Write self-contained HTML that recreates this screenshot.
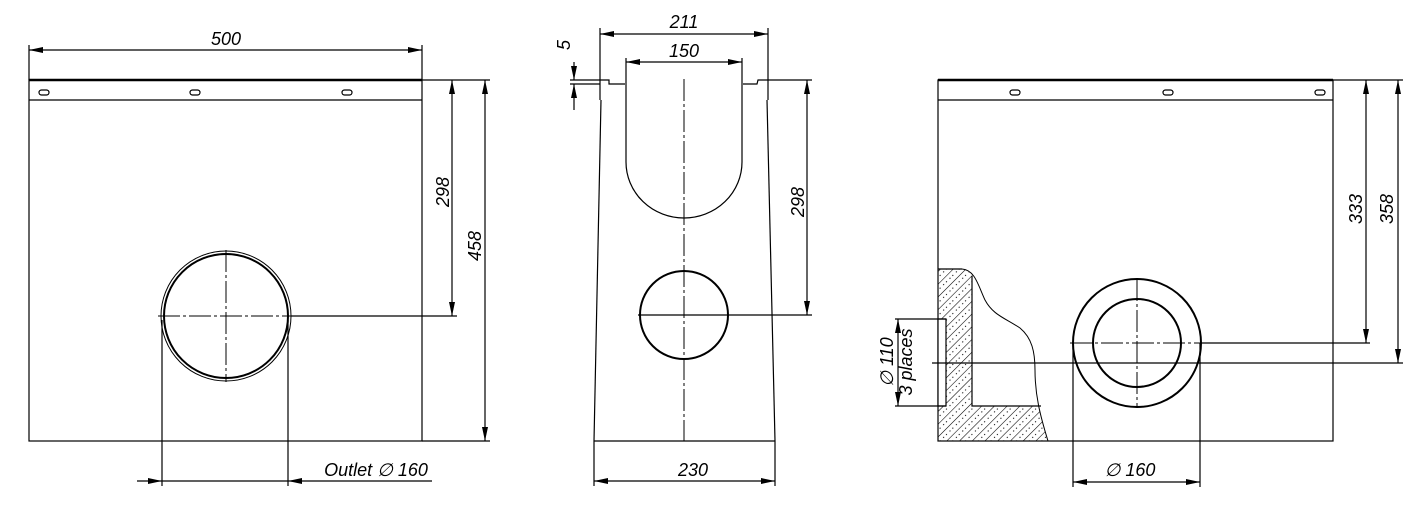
<!DOCTYPE html>
<html><head><meta charset="utf-8"><style>
html,body{margin:0;padding:0;background:#fff;}
svg{display:block;}
text{font-family:"Liberation Sans",sans-serif;font-style:italic;font-size:18px;fill:#000;}
</style></head><body>
<svg width="1415" height="506" viewBox="0 0 1415 506" xmlns="http://www.w3.org/2000/svg">
<defs>
<marker id="a" viewBox="0 0 14 6" refX="14" refY="3" markerWidth="14" markerHeight="6" orient="auto-start-reverse" markerUnits="userSpaceOnUse"><path d="M0,0 L14,3 L0,6 Z" fill="#000"/></marker>
<pattern id="h" width="9" height="9" patternUnits="userSpaceOnUse" patternTransform="rotate(45)">
<line x1="0" y1="0" x2="0" y2="9" stroke="#000" stroke-width="1.1"/>
<circle cx="4.5" cy="2" r="0.6" fill="#000"/><circle cx="4.5" cy="7" r="0.6" fill="#000"/>
</pattern>
</defs>
<g fill="none" stroke="#000" stroke-width="1.2">
<!-- LEFT VIEW -->
<rect x="29" y="80" width="393" height="361"/>
<line x1="29" y1="80" x2="422" y2="80" stroke-width="2.5"/>
<line x1="29" y1="100" x2="422" y2="100"/>
<rect x="39" y="90" width="10" height="5" rx="2.5"/>
<rect x="190" y="90" width="10" height="5" rx="2.5"/>
<rect x="342" y="90" width="10" height="5" rx="2.5"/>
<circle cx="226" cy="316" r="65" stroke-width="1"/>
<circle cx="226" cy="316" r="62" stroke-width="2"/>
<line x1="158" y1="316" x2="294" y2="316" stroke-width="1" stroke-dasharray="22,3,3,3"/>
<line x1="226" y1="250" x2="226" y2="382" stroke-width="1" stroke-dasharray="22,3,3,3"/>
<line x1="162" y1="320" x2="162" y2="486"/>
<line x1="288" y1="320" x2="288" y2="486"/>
<line x1="137" y1="481" x2="162" y2="481" marker-end="url(#a)"/>
<line x1="162" y1="481" x2="288" y2="481"/>
<line x1="432" y1="481" x2="288" y2="481" marker-end="url(#a)"/>
<line x1="29" y1="45" x2="29" y2="80"/>
<line x1="422" y1="45" x2="422" y2="80"/>
<line x1="29" y1="50" x2="422" y2="50" marker-start="url(#a)" marker-end="url(#a)"/>
<line x1="422" y1="80" x2="490" y2="80"/>
<line x1="291" y1="316" x2="457" y2="316"/>
<line x1="422" y1="441" x2="490" y2="441"/>
<line x1="452" y1="80" x2="452" y2="316" marker-start="url(#a)" marker-end="url(#a)"/>
<line x1="485" y1="80" x2="485" y2="441" marker-start="url(#a)" marker-end="url(#a)"/>
<!-- MIDDLE VIEW -->
<path d="M600,100 L600,80 L609,80 L609,84 L625,84"/>
<path d="M743,84 L757,84 L758,80 L768,80 L768,100"/>
<line x1="601" y1="100" x2="594" y2="441"/>
<line x1="767" y1="100" x2="775" y2="441"/>
<line x1="594" y1="441" x2="775" y2="441"/>
<path d="M626,84 L626,162 A58,56 0 0 0 742,162 L742,84"/>
<line x1="684" y1="79" x2="684" y2="441" stroke-width="1" stroke-dasharray="22,3,3,3"/>
<circle cx="684" cy="315" r="44" stroke-width="2"/>
<line x1="638" y1="315" x2="812" y2="315"/>
<line x1="768" y1="80" x2="812" y2="80"/>
<line x1="807" y1="80" x2="807" y2="315" marker-start="url(#a)" marker-end="url(#a)"/>
<line x1="594" y1="441" x2="594" y2="486"/>
<line x1="775" y1="441" x2="775" y2="486"/>
<line x1="594" y1="481" x2="775" y2="481" marker-start="url(#a)" marker-end="url(#a)"/>
<line x1="600" y1="28" x2="600" y2="80"/>
<line x1="768" y1="28" x2="768" y2="80"/>
<line x1="600" y1="34" x2="768" y2="34" marker-start="url(#a)" marker-end="url(#a)"/>
<line x1="626" y1="58" x2="626" y2="84"/>
<line x1="742" y1="58" x2="742" y2="84"/>
<line x1="626" y1="62" x2="742" y2="62" marker-start="url(#a)" marker-end="url(#a)"/>
<line x1="570" y1="80" x2="600" y2="80"/>
<line x1="570" y1="84" x2="600" y2="84"/>
<line x1="574" y1="62" x2="574" y2="80" marker-end="url(#a)"/>
<line x1="574" y1="110" x2="574" y2="84" marker-end="url(#a)"/>
<!-- RIGHT VIEW -->
<path d="M938,269 L962,269 C975,270 978,285 985,300 C993,315 1005,318 1020,328 C1032,338 1035,352 1035,370 C1035,395 1040,415 1048,441 L938,441 Z" fill="url(#h)" stroke="none"/>
<path d="M972,276 L972,406 L1041,406 L1048,441 L1060,441 L1060,300 L1000,270 Z" fill="#fff" stroke="none"/>
<path d="M962,269 C975,270 978,285 985,300 C993,315 1005,318 1020,328 C1032,338 1035,352 1035,370 C1035,395 1040,415 1048,441" stroke-width="1"/>
<rect x="938" y="80" width="395" height="361"/>
<line x1="938" y1="80" x2="1333" y2="80" stroke-width="2.5"/>
<line x1="938" y1="100" x2="1333" y2="100"/>
<rect x="1010" y="90" width="10" height="5" rx="2.5"/>
<rect x="1163" y="90" width="10" height="5" rx="2.5"/>
<rect x="1315" y="90" width="10" height="5" rx="2.5"/>
<path d="M938,269 L962,269"/>
<path d="M972,276 L972,406 L1041,406"/>
<rect x="938" y="319" width="8" height="87" fill="#fff"/>
<line x1="895" y1="319" x2="946" y2="319"/>
<line x1="895" y1="406" x2="946" y2="406"/>
<line x1="898" y1="319" x2="898" y2="406" marker-start="url(#a)" marker-end="url(#a)"/>
<circle cx="1137" cy="343" r="64" stroke-width="2"/>
<circle cx="1137" cy="343" r="44" stroke-width="2"/>
<line x1="1137" y1="279" x2="1137" y2="407" stroke-width="1" stroke-dasharray="22,3,3,3"/>
<line x1="1070" y1="343" x2="1200" y2="343" stroke-width="1" stroke-dasharray="22,3,3,3"/>
<line x1="1200" y1="343" x2="1370" y2="343"/>
<line x1="932" y1="363" x2="1403" y2="363"/>
<line x1="1333" y1="80" x2="1403" y2="80"/>
<line x1="1366" y1="80" x2="1366" y2="343" marker-start="url(#a)" marker-end="url(#a)"/>
<line x1="1398" y1="80" x2="1398" y2="363" marker-start="url(#a)" marker-end="url(#a)"/>
<line x1="1073" y1="343" x2="1073" y2="487"/>
<line x1="1200" y1="343" x2="1200" y2="487"/>
<line x1="1073" y1="482" x2="1200" y2="482" marker-start="url(#a)" marker-end="url(#a)"/>
</g>
<text x="226" y="45" text-anchor="middle">500</text>
<text x="376" y="476" text-anchor="middle">Outlet ∅ 160</text>
<text transform="translate(449,192) rotate(-90)" text-anchor="middle">298</text>
<text transform="translate(481,246) rotate(-90)" text-anchor="middle">458</text>
<text x="684" y="28" text-anchor="middle">211</text>
<text x="684" y="57" text-anchor="middle">150</text>
<text transform="translate(570,45) rotate(-90)" text-anchor="middle">5</text>
<text x="693" y="476" text-anchor="middle">230</text>
<text transform="translate(804,202) rotate(-90)" text-anchor="middle">298</text>
<text transform="translate(1362,209) rotate(-90)" text-anchor="middle">333</text>
<text transform="translate(1393,209) rotate(-90)" text-anchor="middle">358</text>
<text x="1130" y="476" text-anchor="middle">∅ 160</text>
<text transform="translate(893,362) rotate(-90)" text-anchor="middle">∅ 110</text>
<text transform="translate(912,362) rotate(-90)" text-anchor="middle">3 places</text>
</svg>
</body></html>
